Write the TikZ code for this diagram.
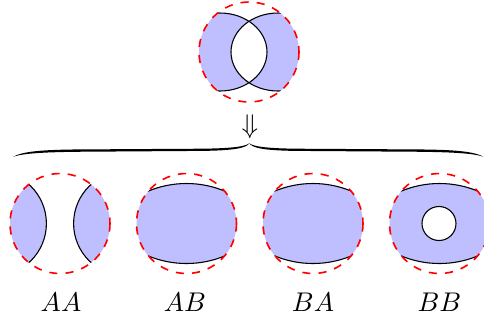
\documentclass[tikz,border=0pt]{standalone}
\begin{document}
\begin{tikzpicture}[x=0.37pt,y=-0.37pt,
  region/.style={fill=blue!25},
  edge/.style={draw=black,line width=0.4pt},
  bound/.style={draw=red,dashed,line width=0.6pt},
  lbl/.style={anchor=base,inner sep=0pt}]
\useasboundingbox (0,0) rectangle (484,320);

% ---------- top picture ----------
\coordinate (T) at (249,52);
\begin{scope}
  \clip (T) circle[radius=50];
  \fill[region,even odd rule] (220,52) ellipse[x radius=47,y radius=39]
                              (278,52) ellipse[x radius=47,y radius=39];
  \draw[edge] (220,52) ellipse[x radius=47,y radius=39];
  \draw[edge] (278,52) ellipse[x radius=47,y radius=39];
\end{scope}
\draw[bound] (T) circle[radius=50];

\node[inner sep=0pt] (arr) at (250,126.3) {$\Downarrow$};

% ---------- brace ----------
\coordinate (bl) at (13.3,156.7);
\coordinate (tip) at (249.3,143.3);
\coordinate (br) at (483.3,156.7);
\fill[black]
  (bl) .. controls (25,150.2) and (50,149.4) .. (100,149.3)
       -- (200,148.7) .. controls (234,148.4) and (245,146.3) .. (tip)
       .. controls (253.6,146.3) and (264.5,148.4) .. (298.2,148.7)
       -- (397.3,149.3) .. controls (446.9,149.4) and (471.7,150.2) .. (br)
       .. controls (471.7,152.8) and (446.9,151.8) .. (397.3,151.6)
       -- (298.2,150.9) .. controls (262.5,150.6) and (252.1,147.7) .. (tip)
       .. controls (246.5,147.7) and (236,150.6) .. (200,150.9)
       -- (100,151.6) .. controls (50,151.8) and (25,152.8) .. (bl) -- cycle;

% ---------- AA ----------
\coordinate (c1) at (60,223.5);
\begin{scope}
  \clip (c1) circle[radius=50];
  \fill[region] (-6,223.5) circle[radius=52.4] (126,223.5) circle[radius=52.4];
  \draw[edge] (-6,223.5) circle[radius=52.4];
  \draw[edge] (126,223.5) circle[radius=52.4];
\end{scope}
\draw[bound] (c1) circle[radius=50];
\node[lbl] (l1) at (61,311.5) {$AA$};

% ---------- AB, BA, BB ----------
\foreach \cx/\nm in {186.5/c2, 313/c3, 439.5/c4}{
  \coordinate (\nm) at (\cx,223.5);
  \begin{scope}
    \clip (\nm) circle[radius=50];
    \begin{scope}
      \clip (\cx,283.5) circle[radius=100];
      \fill[region] (\cx,163.5) circle[radius=100];
    \end{scope}
    \draw[edge] (\cx,283.5) circle[radius=100];
    \draw[edge] (\cx,163.5) circle[radius=100];
  \end{scope}
}
\draw[edge,fill=white] (439,223.5) circle[radius=17];
\draw[bound] (c2) circle[radius=50];
\draw[bound] (c3) circle[radius=50];
\draw[bound] (c4) circle[radius=50];
\node[lbl] (l2) at (185,311.5) {$AB$};
\node[lbl] (l3) at (313,311.5) {$BA$};
\node[lbl] (l4) at (439.5,311.5) {$BB$};
\end{tikzpicture}
\end{document}
